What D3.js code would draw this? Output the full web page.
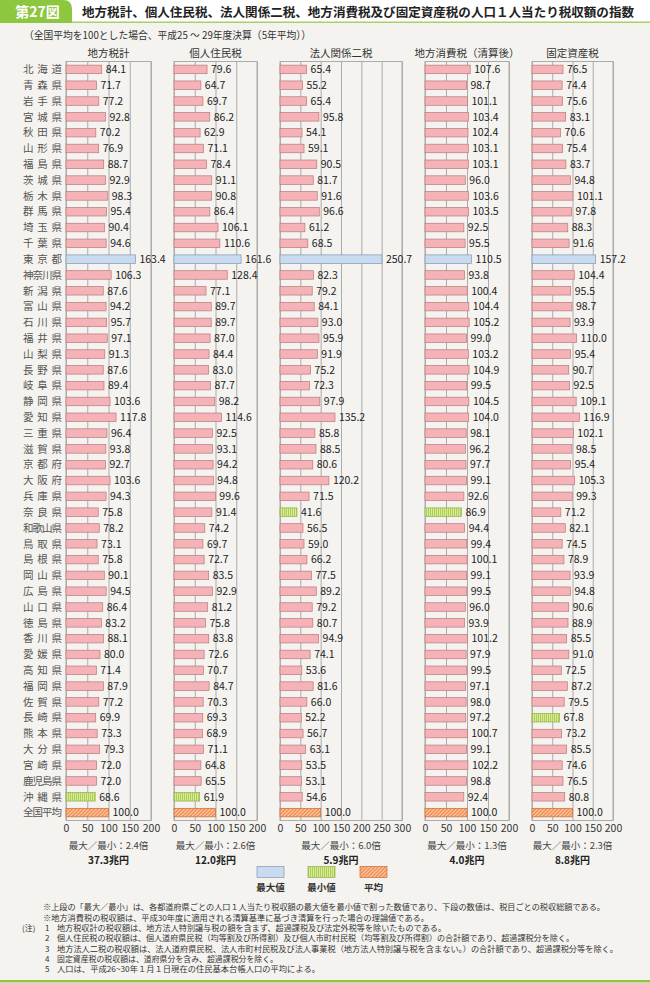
<!DOCTYPE html>
<html>
<head>
<meta charset="utf-8">
<script src="https://cdn.jsdelivr.net/npm/d3@7"></script>
<style>
  body { margin: 0; background: #fff; }
  text { font-family: "Noto Sans CJK JP", "Noto Sans", sans-serif; }
</style>
</head>
<body>
<script>
// prefectures, top to bottom, national average last
var prefectures = ["北海道","青森県","岩手県","宮城県","秋田県","山形県","福島県","茨城県","栃木県","群馬県",
  "埼玉県","千葉県","東京都","神奈川県","新潟県","富山県","石川県","福井県","山梨県","長野県",
  "岐阜県","静岡県","愛知県","三重県","滋賀県","京都府","大阪府","兵庫県","奈良県","和歌山県",
  "鳥取県","島根県","岡山県","広島県","山口県","徳島県","香川県","愛媛県","高知県","福岡県",
  "佐賀県","長崎県","熊本県","大分県","宮崎県","鹿児島県","沖縄県","全国平均"];

var localTaxTotal = [84.1,71.7,77.2,92.8,70.2,76.9,88.7,92.9,98.3,95.4,90.4,94.6,163.4,106.3,87.6,94.2,95.7,97.1,91.3,87.6,
  89.4,103.6,117.8,96.4,93.8,92.7,103.6,94.3,75.8,78.2,73.1,75.8,90.1,94.5,86.4,83.2,88.1,80.0,71.4,87.9,
  77.2,69.9,73.3,79.3,72.0,72.0,68.6,100.0];
var residentTax = [79.6,64.7,69.7,86.2,62.9,71.1,78.4,91.1,90.8,86.4,106.1,110.6,161.6,128.4,77.1,89.7,89.7,87.0,84.4,83.0,
  87.7,98.2,114.6,92.5,93.1,94.2,94.8,99.6,91.4,74.2,69.7,72.7,83.5,92.9,81.2,75.8,83.8,72.6,70.7,84.7,
  70.3,69.3,68.9,71.1,64.8,65.5,61.9,100.0];
var corporateTax = [65.4,55.2,65.4,95.8,54.1,59.1,90.5,81.7,91.6,96.6,61.2,68.5,250.7,82.3,79.2,84.1,93.0,95.9,91.9,75.2,
  72.3,97.9,135.2,85.8,88.5,80.6,120.2,71.5,41.6,56.5,59.0,66.2,77.5,89.2,79.2,80.7,94.9,74.1,53.6,81.6,
  66.0,52.2,56.7,63.1,53.5,53.1,54.6,100.0];
var consumptionTax = [107.6,98.7,101.1,103.4,102.4,103.1,103.1,96.0,103.6,103.5,92.5,95.5,110.5,93.8,100.4,104.4,105.2,99.0,103.2,104.9,
  99.5,104.5,104.0,98.1,96.2,97.7,99.1,92.6,86.9,94.4,99.4,100.1,99.1,99.5,96.0,93.9,101.2,97.9,99.5,97.1,
  98.0,97.2,100.7,99.1,102.2,98.8,92.4,100.0];
var propertyTax = [76.5,74.4,75.6,83.1,70.6,75.4,83.7,94.8,101.1,97.8,88.3,91.6,157.2,104.4,95.5,98.7,93.9,110.0,95.4,90.7,
  92.5,109.1,116.9,102.1,98.5,95.4,105.3,99.3,71.2,82.1,74.5,78.9,93.9,94.8,90.6,88.9,85.5,91.0,72.5,87.2,
  79.5,67.8,73.2,85.5,74.6,76.5,80.8,100.0];

var panelTitles = ["地方税計","個人住民税","法人関係二税","地方消費税（清算後）","固定資産税"];
var ratioLabels = ["2.4","2.6","6.0","1.3","2.3"];
var totalLabels = ["37.3","12.0","5.9","4.0","8.8"];
var axisMax = [200, 200, 300, 200, 200];
var tickValues = [[0,50,100,150,200],[0,50,100,150,200],[0,50,100,150,200,250,300],[0,50,100,150,200],[0,50,100,150,200]];
var legendLabels = ["最大値","最小値","平均"];

var notes = [
  "※上段の「最大／最小」は、各都道府県ごとの人口１人当たり税収額の最大値を最小値で割った数値であり、下段の数値は、税目ごとの税収総額である。",
  "※地方消費税の税収額は、平成30年度に適用される清算基準に基づき清算を行った場合の理論値である。",
  "地方税収計の税収額は、地方法人特別譲与税の額を含まず、超過課税及び法定外税等を除いたものである。",
  "個人住民税の税収額は、個人道府県民税（均等割及び所得割）及び個人市町村民税（均等割及び所得割）の合計額であり、超過課税分を除く。",
  "地方法人二税の税収額は、法人道府県民税、法人市町村民税及び法人事業税（地方法人特別譲与税を含まない。）の合計額であり、超過課税分等を除く。",
  "固定資産税の税収額は、道府県分を含み、超過課税分を除く。",
  "人口は、平成26~30年１月１日現在の住民基本台帳人口の平均による。"
];

var series = [localTaxTotal, residentTax, corporateTax, consumptionTax, propertyTax];

// layout
var svgWidth = 650, svgHeight = 983;
var plotTop = 61.5, plotBottom = 820.5;
var panelX = [[66,151],[174,257],[280,402],[425,509],[532,613]];

var colors = {
  normal: "#f6b3b7", normalStroke: "#b8787c",
  max: "#c8dbf1", maxStroke: "#8596b2",
  minStroke: "#94ad4c", avgStroke: "#cc6a32",
  grid: "#ababab", green: "#8dc63f"
};

var svg = d3.select("body")
  .append("svg")
  .attr("width", svgWidth)
  .attr("height", svgHeight);

// patterns for min and average bars
var defs = svg.append("defs");
var hatch = defs.append("pattern")
  .attr("id", "hatchAvg")
  .attr("patternUnits", "userSpaceOnUse")
  .attr("width", 2.6).attr("height", 2.6)
  .attr("patternTransform", "rotate(45)");
hatch.append("rect").attr("width", 2.6).attr("height", 2.6).attr("fill", "#f29154");
hatch.append("line").attr("x1", 0.5).attr("x2", 0.5).attr("y1", 0).attr("y2", 2.6)
  .attr("stroke", "#fbd6bd").attr("stroke-width", 0.9);

var stripes = defs.append("pattern")
  .attr("id", "stripeMin")
  .attr("patternUnits", "userSpaceOnUse")
  .attr("width", 2).attr("height", 2);
stripes.append("rect").attr("width", 2).attr("height", 2).attr("fill", "#d6eb94");
stripes.append("line").attr("x1", 0.5).attr("x2", 0.5).attr("y1", 0).attr("y2", 2)
  .attr("stroke", "#a9cc52").attr("stroke-width", 0.9);

// background and title band
svg.append("rect").attr("x", 0).attr("y", 22).attr("width", svgWidth).attr("height", 959).attr("fill", "#f5f3ef");
svg.append("rect").attr("x", 0).attr("y", 21.5).attr("width", svgWidth).attr("height", 1.5).attr("fill", "#a8d068");
svg.append("rect").attr("x", 0).attr("y", 980).attr("width", svgWidth).attr("height", 2.5).attr("fill", colors.green);
svg.append("path")
  .attr("d", "M0,0 H63 Q72,0 72,9 V23 H0 Z")
  .attr("fill", colors.green);
svg.append("text")
  .attr("x", 37.5).attr("y", 12).attr("dy", "0.36em")
  .attr("text-anchor", "middle")
  .attr("fill", "#fff").attr("font-weight", "bold").attr("font-size", 14)
  .text("第27図");
svg.append("text")
  .attr("x", 82).attr("y", 12).attr("dy", "0.36em")
  .attr("font-weight", "bold").attr("font-size", 12.5).attr("fill", "#222")
  .attr("textLength", 552).attr("lengthAdjust", "spacingAndGlyphs")
  .text("地方税計、個人住民税、法人関係二税、地方消費税及び固定資産税の人口１人当たり税収額の指数");

// subtitle
svg.append("text")
  .attr("x", 24).attr("y", 35).attr("dy", "0.36em")
  .attr("font-size", 10.5).attr("fill", "#333")
  .attr("textLength", 287).attr("lengthAdjust", "spacingAndGlyphs")
  .text("（全国平均を100とした場合、平成25 ～ 29年度決算（5年平均））");

// rows
var yScale = d3.scaleBand()
  .domain(prefectures)
  .range([plotTop, plotBottom]);
var barH = yScale.bandwidth() * 0.54;

// prefecture names, spread to the same width
svg.append("g").selectAll("text")
  .data(prefectures)
  .enter()
  .append("text")
  .attr("x", 23)
  .attr("y", function(d) { return yScale(d) + yScale.bandwidth() / 2; })
  .attr("dy", "0.36em")
  .attr("font-size", 10.5)
  .attr("fill", "#555")
  .attr("textLength", 39)
  .attr("lengthAdjust", "spacing")
  .text(function(d) { return d; });

series.forEach(function(values, p) {

  var xScale = d3.scaleLinear()
    .domain([0, axisMax[p]])
    .range(panelX[p]);

  var g = svg.append("g").attr("class", "panel");

  // grid lines and tick labels from the axis
  var axis = g.append("g")
    .attr("transform", "translate(0," + plotBottom + ")")
    .call(d3.axisBottom(xScale)
      .tickValues(tickValues[p])
      .tickSize(-(plotBottom - plotTop))
      .tickPadding(4));
  axis.select(".domain").remove();
  axis.selectAll("line").attr("stroke", colors.grid);
  axis.selectAll("text")
    .attr("font-size", 10.5)
    .attr("fill", "#333")
    .style("font-family", "\"Noto Sans CJK JP\", sans-serif");

  // frame
  g.append("rect")
    .attr("x", xScale(0)).attr("y", plotTop)
    .attr("width", xScale(axisMax[p]) - xScale(0))
    .attr("height", plotBottom - plotTop)
    .attr("fill", "none").attr("stroke", colors.grid);

  // max / min among prefectures
  var prefValues = values.slice(0, values.length - 1);
  var maxVal = d3.max(prefValues), minVal = d3.min(prefValues);

  var rows = prefectures.map(function(name, i) {
    var kind = "normal";
    if (i === prefectures.length - 1) kind = "avg";
    else if (values[i] === maxVal) kind = "max";
    else if (values[i] === minVal) kind = "min";
    return { name: name, value: values[i], kind: kind };
  });

  g.selectAll(".bar")
    .data(rows)
    .enter()
    .append("rect")
    .attr("class", "bar")
    .attr("x", xScale(0))
    .attr("y", function(d) { return yScale(d.name) + (yScale.bandwidth() - barH) / 2; })
    .attr("width", function(d) { return xScale(d.value) - xScale(0); })
    .attr("height", barH)
    .attr("fill", function(d) {
      if (d.kind === "max") return colors.max;
      if (d.kind === "min") return "url(#stripeMin)";
      if (d.kind === "avg") return "url(#hatchAvg)";
      return colors.normal;
    })
    .attr("stroke", function(d) {
      if (d.kind === "max") return colors.maxStroke;
      if (d.kind === "min") return colors.minStroke;
      if (d.kind === "avg") return colors.avgStroke;
      return colors.normalStroke;
    })
    .attr("stroke-width", 0.7);

  // value labels
  g.selectAll(".val")
    .data(rows)
    .enter()
    .append("text")
    .attr("class", "val")
    .attr("x", function(d) { return xScale(d.value) + 4; })
    .attr("y", function(d) { return yScale(d.name) + yScale.bandwidth() / 2; })
    .attr("dy", "0.36em")
    .attr("font-size", 10.5)
    .attr("fill", "#222")
    .text(function(d) { return d.value.toFixed(1); });

  var cx = (panelX[p][0] + panelX[p][1]) / 2;

  // column header
  svg.append("text")
    .attr("x", cx).attr("y", 53).attr("dy", "0.36em")
    .attr("text-anchor", "middle")
    .attr("font-size", 10.5).attr("fill", "#333")
    .text(panelTitles[p]);

  // footer: ratio and total
  svg.append("text")
    .attr("x", cx).attr("y", 846).attr("dy", "0.36em")
    .attr("text-anchor", "middle")
    .attr("font-size", 9.5).attr("fill", "#444")
    .text("最大／最小：" + ratioLabels[p] + "倍");
  svg.append("text")
    .attr("x", cx).attr("y", 860).attr("dy", "0.36em")
    .attr("text-anchor", "middle")
    .attr("font-size", 10).attr("font-weight", "bold").attr("fill", "#222")
    .text(totalLabels[p] + "兆円");
});

// legend
var legendX = [257, 308, 360];
var legendFill = [colors.max, "url(#stripeMin)", "url(#hatchAvg)"];
var legendStroke = [colors.maxStroke, colors.minStroke, colors.avgStroke];
var legend = svg.append("g").attr("class", "legend");
legendLabels.forEach(function(label, i) {
  legend.append("rect")
    .attr("x", legendX[i]).attr("y", 866.5)
    .attr("width", 27).attr("height", 11)
    .attr("fill", legendFill[i])
    .attr("stroke", legendStroke[i]).attr("stroke-width", 0.7);
  legend.append("text")
    .attr("x", legendX[i] + 13.5).attr("y", 887.5).attr("dy", "0.36em")
    .attr("text-anchor", "middle")
    .attr("font-size", 9.5).attr("font-weight", "bold").attr("fill", "#333")
    .text(label);
});

// notes
var noteX = [43, 43, 57, 57, 57, 57, 57];
var noteWidth = [562, 386, 389, 517, 561, 221, 263];
notes.forEach(function(note, i) {
  var numbered = i >= 2;
  var y = 907.5 + i * 10.3;
  svg.append("text")
    .attr("x", noteX[i]).attr("y", y).attr("dy", "0.36em")
    .attr("font-size", 8).attr("fill", "#333")
    .attr("textLength", noteWidth[i]).attr("lengthAdjust", "spacingAndGlyphs")
    .text(note);
  if (numbered) {
    svg.append("text")
      .attr("x", 45).attr("y", y).attr("dy", "0.36em")
      .attr("font-size", 8).attr("fill", "#333")
      .text(String(i - 1));
  }
});
svg.append("text")
  .attr("x", 22).attr("y", 907.5 + 2 * 10.3).attr("dy", "0.36em")
  .attr("font-size", 8).attr("fill", "#333")
  .text("(注)");
</script>
</body>
</html>
